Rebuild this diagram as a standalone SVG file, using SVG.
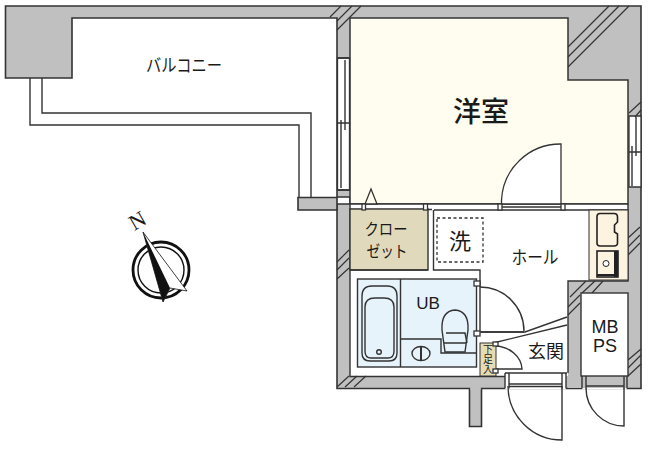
<svg xmlns="http://www.w3.org/2000/svg" width="652" height="450" viewBox="0 0 652 450">
<style>
.l{fill:none;stroke:#333;stroke-width:1.4}
.w{fill:#c0c0c0;stroke:#333;stroke-width:1.6}
.e{fill:#fff;stroke:#333;stroke-width:1.3}
.h{fill:none;stroke:#333;stroke-width:1.2}
text{font-family:"Noto Sans CJK JP","Noto Sans",sans-serif;fill:#1a1a1a;text-anchor:middle}
.a{font-family:"Liberation Sans",sans-serif}
</style>
<rect width="652" height="450" fill="#fff"/>
<g id="walls">
<path class="w" d="M5.500 6H641V388.500H337V204H350V197H337V18H72V78H5.500Z"/>
<path class="w" d="M298 197.500H337V210H298Z"/>
<path class="w" d="M469.500 388.500V426.500H481.500V388.500"/>
<rect x="470.300" y="380" width="10.400" height="10" fill="#c0c0c0"/>
<path fill="#fff" d="M505 372H566V389.500H505Z"/>
<path fill="#fff" d="M582 376H627V389.500H582Z"/>
</g>
<g id="balcony">
<path class="l" d="M30 78V125H299V197"/>
<path class="l" d="M42 78V113H311V197"/>
<text x="184" y="72" font-size="18" textLength="76" lengthAdjust="spacingAndGlyphs">バルコニー</text>
</g>
<g id="room-yoshitsu">
<path d="M350 18H568V80H628V204H350Z" fill="#fffdf0" stroke="#333" stroke-width="1.5"/>
<text x="481" y="122" font-size="28" font-weight="500">洋室</text>
</g>
<g id="windows">
<path class="e" d="M337.500 58H349.500V190H337.500Z"/>
<path class="l" d="M345 60V130M341 120V188M337 123H349M337 58H350M337 190H350"/>
<path class="e" d="M629 116H641V187H629Z"/>
<path class="l" d="M636 117V156M632 146V186M629 152H641"/>
</g>
<g id="interior-base">
<rect x="350" y="204" width="278" height="172" fill="#fff"/>
<path class="l" d="M350 204H628M350 209.500H432M434 210H628"/>
<path d="M568 281H628V293H581V376H628V388H568Z" fill="#c0c0c0"/>
<path d="M628 204V281H568V373" class="l"/>
<path d="M350 204V376.500H505" class="l" stroke-width="1.600"/>
</g>
<g id="hatching">
<path class="h" d="M330 17L341 6M337 21L352 6M337 30L361 6M568 47L609 6M568 57L619 6M568 67L629 6M629 113L641 102M635 117L641 110M337 262L349 250M337 270L349 258M337 279L349 268M628 238L640 227M628 247L640 235M628 255L640 243M570 297L586 281M582 293L595 281M592 293L603 281M568 307L580 295M568 315L580 303M628 360L641 349M628 368L641 355M628 376L641 364M337 387L349 376M345 387L357 376M354 387L366 376"/>
</g>
<g id="closet">
<rect x="350" y="209" width="78" height="61" fill="#e1d9bc" stroke="#333" stroke-width="1.400"/>
<text x="386" y="235" font-size="16" textLength="43" lengthAdjust="spacingAndGlyphs">クロー</text>
<text x="387" y="257" font-size="16" textLength="41" lengthAdjust="spacingAndGlyphs">ゼット</text>
<path d="M371 189L365 204H377Z" fill="#fffdf0" stroke="#333" stroke-width="1.300"/>
<rect class="e" x="362" y="204" width="3.500" height="6"/>
<rect class="e" x="423.500" y="204" width="4" height="6"/>
</g>
<g id="hall">
<path class="l" d="M433.500 210V270H480V331"/>
<path class="l" d="M350 270H428"/>
<rect x="437" y="218" width="46" height="44" fill="none" stroke="#333" stroke-width="1.300" stroke-dasharray="3 2.500"/>
<text x="460" y="249" font-size="22">洗</text>
<text x="535" y="264" font-size="18" textLength="47" lengthAdjust="spacingAndGlyphs">ホール</text>
</g>
<g id="room-door">
<path d="M501.500 204V200A59 59 0 0 1 561 144V204Z" class="e"/>
<rect class="e" x="498" y="204" width="4" height="6"/>
<rect class="e" x="561" y="204" width="4" height="6"/>
<path class="l" d="M502 207H561"/>
</g>
<g id="kitchen">
<rect x="589" y="210" width="39" height="70" fill="#fdf3e1" stroke="#333" stroke-width="1"/>
<path d="M600 213.500H614Q617.500 213.500 617.500 217V222L614.500 225V232L617.500 234V243Q617.500 246 614 246H600Q597 246 597 243V216.500Q597 213.500 600 213.500Z" fill="#fdf3e1" stroke="#222" stroke-width="1.600"/>
<rect x="597" y="251" width="21" height="26" fill="#fdf3e1" stroke="#222" stroke-width="1.600"/>
<path d="M616 251V277" stroke="#222" stroke-width="4"/>
<path d="M597 275H618" stroke="#222" stroke-width="2"/>
<circle cx="606" cy="263.500" r="3" fill="#fff" stroke="#222" stroke-width="1"/>
</g>
<g id="bathroom">
<rect x="357.500" y="279" width="119" height="88" fill="#e7f3fb" stroke="#333" stroke-width="1.400"/>
<path class="l" d="M400.500 279V367M400.500 339H441V353H476"/>
<path class="l" d="M362 296Q362 286 372 286H387Q397 286 397 296V353Q397 361 389 361H370Q362 361 362 353Z"/>
<path class="l" d="M365 307Q365 298 375 298H384Q394 298 394 307V351Q394 358 388 358H371Q365 358 365 351Z"/>
<circle cx="379" cy="352" r="2.300" class="l"/>
<ellipse cx="421" cy="353.500" rx="9" ry="7" class="l"/>
<path d="M421 347V360" stroke="#333" stroke-width="2"/>
<path d="M455 310Q469 311 468 330L465 352H445L442 330Q441 311 455 310Z" class="l"/>
<path class="l" d="M446 333H465L467 343M444 343H466"/>
<text class="a" x="428" y="309" font-size="17">UB</text>
<rect class="e" x="474" y="281" width="6" height="5"/>
</g>
<g id="ub-door">
<path class="l" d="M480 287A44 44 0 0 1 524 331"/>
<path class="l" d="M474 332H524"/>
<rect class="e" x="474" y="331" width="6" height="5"/>
</g>
<g id="entrance">
<path class="l" d="M481 332H525L567 317M493 343L567 325"/>
<text x="546" y="358" font-size="18">玄関</text>
<path class="l" d="M495 346A28 24 0 0 1 522 369H495"/>
<path class="l" d="M505 373H567"/>
<rect x="480" y="343" width="16" height="33" fill="#e6dcb4" stroke="#333" stroke-width="1"/>
<text font-size="10" x="488" y="344" style="writing-mode:vertical-rl;text-anchor:start">下足入</text>
<rect class="e" x="493" y="342" width="5" height="4"/>
<rect class="e" x="493" y="369" width="5" height="4"/>
<path class="l" d="M505 373V388.500M509 373V388.500M562 373V388.500M566 373V388.500M509 384H562M509 386.500H562"/>
<path class="l" d="M508 386A54 54 0 0 0 562 440V386"/>
</g>
<g id="mb-ps">
<rect x="581" y="293" width="47" height="83" fill="#fff" stroke="#333" stroke-width="1.400"/>
<text class="a" x="605" y="333" font-size="18">MB</text>
<text class="a" x="605" y="352" font-size="18">PS</text>
<path class="l" d="M582 376V388.500M586 376V388.500M624 376V388.500M627 376V388.500M586 386H624"/>
<path class="l" d="M586 388A38 38 0 0 0 624 426V388"/>
</g>
<g id="compass">
<circle cx="161" cy="270" r="28" fill="none" stroke="#111" stroke-width="2.800"/>
<circle cx="161" cy="270" r="23" fill="none" stroke="#111" stroke-width="1.400"/>
<path d="M143 232L187 291L170 288L163 302Z" fill="#fff" stroke="#111" stroke-width="0.800"/>
<path d="M143 232L163 302L170 288Z" fill="#111"/>
<text font-size="22" transform="translate(141 227) rotate(-30)" style="font-family:'Liberation Serif',serif">N</text>
</g>
</svg>
